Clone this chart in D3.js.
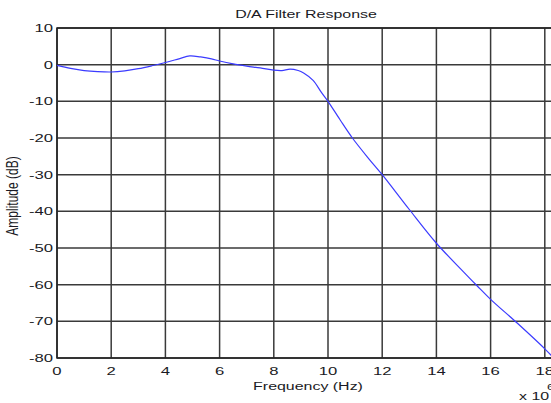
<!DOCTYPE html>
<html><head><meta charset="utf-8">
<script src="https://cdn.jsdelivr.net/npm/d3@7"></script>
<style>html,body{margin:0;padding:0;background:#fff;overflow:hidden}svg{display:block}</style>
</head><body>
<svg id="c" width="551" height="403"></svg>
<script>
// Data (frequency in MHz, i.e. x 10^6 Hz; amplitude in dB)
const freqMHz = [0,0.5,1,1.5,2,2.5,3,3.5,4,4.5,4.9,5.3,5.7,6,6.5,7,7.5,8,8.3,8.6,8.9,9.1,9.45,9.75,10,10.45,10.9,11.5,12,13,14,15,15.5,16,17,18,18.3];
const ampDB   = [-0.2,-1.0,-1.6,-1.9,-2.0,-1.7,-1.1,-0.3,0.6,1.6,2.4,2.1,1.6,1.0,0.2,-0.4,-0.9,-1.5,-1.6,-1.2,-1.6,-2.3,-4.3,-7.5,-10,-15.1,-20.0,-25.6,-30,-39.5,-48.7,-56.5,-60.3,-64,-70.6,-77.5,-79.8];
const xTicks = [0,2,4,6,8,10,12,14,16,18,20];
const yTicks = [10,0,-10,-20,-30,-40,-50,-60,-70,-80];
const title = "D/A Filter Response";
const xLabel = "Frequency (Hz)";
const yLabel = "Amplitude (dB)";

const svg = d3.select("#c");
const L = 57, R = 599, T = 28, B = 358;
const x = d3.scaleLinear().domain([0,20]).range([L,R]);
const y = d3.scaleLinear().domain([-80,10]).range([B,T]);
const SX = 1.45;
const font = "'Liberation Sans', Arial, sans-serif";
const txtCol = "#1a1a24";

function stext(px, py, s, size, anchor, extra) {
  return svg.append("text")
    .attr("transform", `translate(${px},${py}) scale(${SX},1)` + (extra||""))
    .attr("font-family", font).attr("font-size", size)
    .attr("text-anchor", anchor).attr("fill", txtCol).text(s);
}

const grid = svg.append("g").attr("stroke", "#3a3a3a").attr("stroke-width", 1.5).attr("fill","none");
xTicks.forEach(t => grid.append("line").attr("x1", x(t)).attr("x2", x(t)).attr("y1", T).attr("y2", B));
yTicks.forEach(t => grid.append("line").attr("x1", L).attr("x2", R).attr("y1", y(t)).attr("y2", y(t)));
svg.append("rect").attr("x", L).attr("y", T).attr("width", R-L).attr("height", B-T)
  .attr("fill","none").attr("stroke","#222").attr("stroke-width",1.5);

const line = d3.line().x((d,i)=>x(freqMHz[i])).y(d=>y(d)).curve(d3.curveCatmullRom.alpha(0.5));
svg.append("path").datum(ampDB).attr("d", line)
  .attr("fill","none").attr("stroke","#3b3bff").attr("stroke-width",1.2);

xTicks.forEach(t => stext(x(t), 375, String(t), 11.5, "middle"));
yTicks.forEach(t => stext(53, y(t)+4, String(t), 11.5, "end"));

stext(306, 18, title, 11, "middle");
stext(308, 390, xLabel, 11, "middle");
svg.append("text")
  .attr("transform", `translate(18,196) scale(1.35,1) rotate(-90)`)
  .attr("font-family", font).attr("font-size", 12).attr("text-anchor","middle")
  .attr("fill", txtCol).text(yLabel);
stext(519, 400, "x 10", 11, "start");
stext(547, 390, "6", 9, "start");
</script>
</body></html>
